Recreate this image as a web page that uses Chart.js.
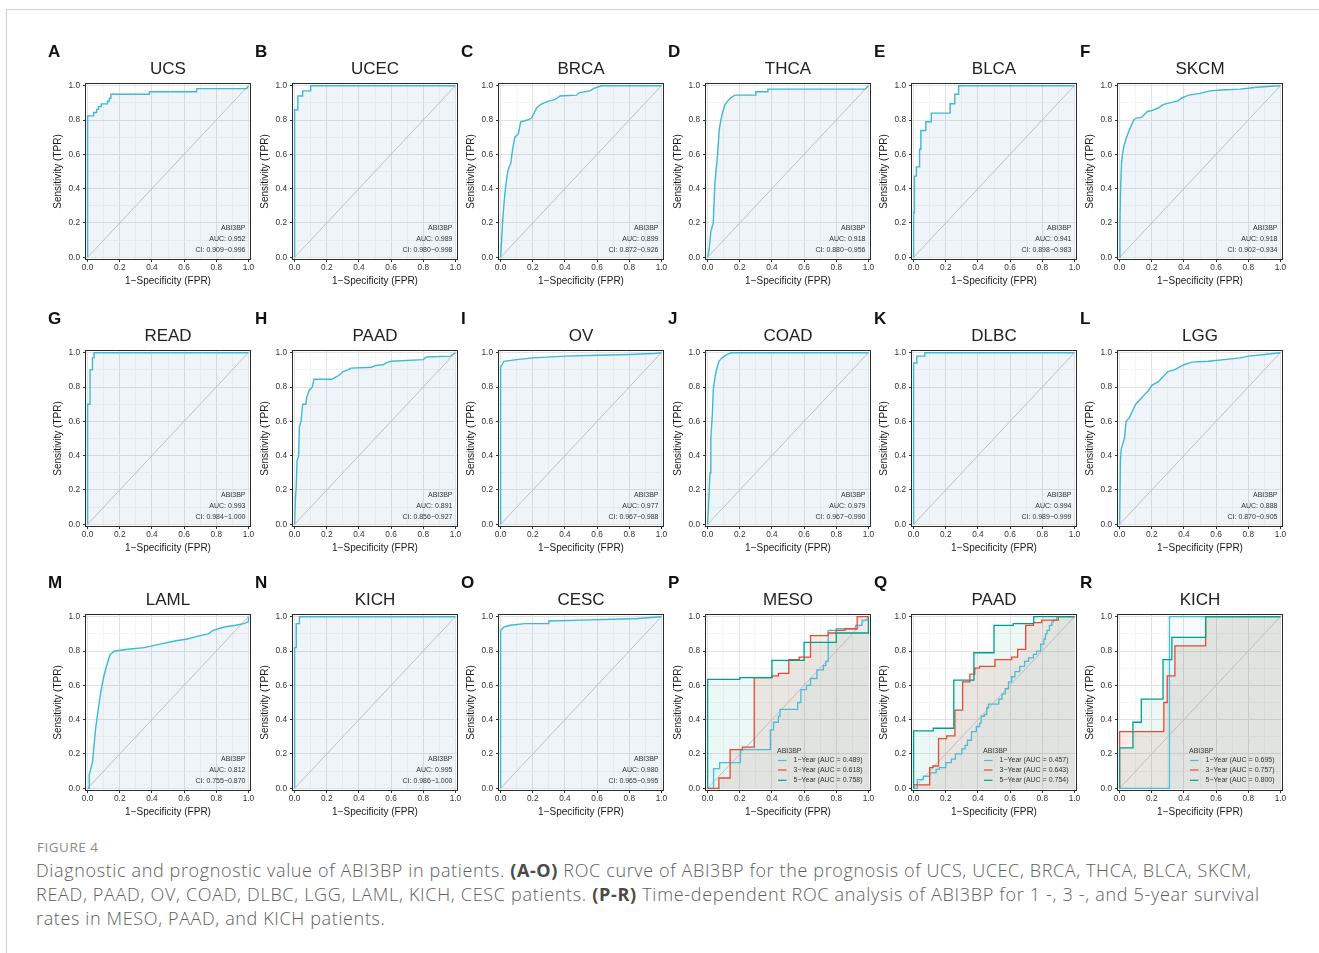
<!DOCTYPE html>
<html>
<head>
<meta charset="utf-8">
<script src="https://cdn.jsdelivr.net/npm/chart.js@4.4.1/dist/chart.umd.min.js"></script>
<style>
  html, body { margin: 0; padding: 0; background: #fff; }
  body { width: 1319px; height: 953px; position: relative; overflow: hidden; }
  #frame { position: absolute; left: 6px; top: 9px; width: 1400px; height: 1000px;
           border-left: 1px solid #d2d2d2; border-top: 1px solid #d2d2d2; }
  canvas.panel { position: absolute; }
  #figlabel { position: absolute; left: 37px; top: 838px; font: 13.5px/18px "Open Sans", sans-serif; color: #8a8a8a; letter-spacing: 0.5px; }
  #caption { position: absolute; left: 36px; top: 858px; font: 300 18px/24px "Open Sans", sans-serif; color: #5e5e5e; }
  #caption div { white-space: nowrap; height: 24px; }
  #caption span { display: inline-block; }
  #caption b { font-weight: 700; color: #4a4a4a; }
</style>
</head>
<body>
<div id="frame"></div>
<div id="figlabel">FIGURE 4</div>
<div id="caption">
  <div><span>Diagnostic and prognostic value of ABI3BP in patients. <b>(A-O)</b> ROC curve of ABI3BP for the prognosis of UCS, UCEC, BRCA, THCA, BLCA, SKCM,</span></div>
  <div><span>READ, PAAD, OV, COAD, DLBC, LGG, LAML, KICH, CESC patients. <b>(P-R)</b> Time-dependent ROC analysis of ABI3BP for 1 -, 3 -, and 5-year survival</span></div>
  <div><span>rates in MESO, PAAD, and KICH patients.</span></div>
</div>
<script>
// axis ticks
const gridTicks = [0, 0.1, 0.2, 0.3, 0.4, 0.5, 0.6, 0.7, 0.8, 0.9, 1];
const majorTicks = [0, 0.2, 0.4, 0.6, 0.8, 1];

// panels A-O (single ROC curve each)
const panelLetters = ['A', 'B', 'C', 'D', 'E', 'F', 'G', 'H', 'I', 'J', 'K', 'L', 'M', 'N', 'O'];
const panelTitles = ['UCS', 'UCEC', 'BRCA', 'THCA', 'BLCA', 'SKCM', 'READ', 'PAAD', 'OV', 'COAD', 'DLBC', 'LGG', 'LAML', 'KICH', 'CESC'];
const aucValues = ['0.952', '0.989', '0.899', '0.918', '0.941', '0.918', '0.993', '0.891', '0.977', '0.979', '0.994', '0.888', '0.812', '0.995', '0.980'];
const ciValues = ['0.909−0.996', '0.980−0.998', '0.872−0.926', '0.880−0.956', '0.898−0.983', '0.902−0.934', '0.984−1.000', '0.856−0.927',
                  '0.967−0.988', '0.967−0.990', '0.989−0.999', '0.870−0.905', '0.755−0.870', '0.986−1.000', '0.965−0.995'];

const ucsFpr = [0, 0, 0.037, 0.037, 0.056, 0.056, 0.068, 0.068, 0.085, 0.085, 0.124, 0.124, 0.135, 0.135, 0.145, 0.145, 0.384, 0.384, 0.678, 0.678, 0.99, 1];
const ucsTpr = [0, 0.824, 0.824, 0.844, 0.844, 0.862, 0.862, 0.878, 0.878, 0.894, 0.894, 0.91, 0.91, 0.927, 0.927, 0.95, 0.95, 0.965, 0.965, 0.983, 0.983, 1];
const ucecFpr = [0, 0, 0.02, 0.02, 0.05, 0.05, 0.1, 0.1, 1];
const ucecTpr = [0, 0.86, 0.86, 0.94, 0.94, 0.97, 0.97, 1, 1];
const brcaFpr = [0, 0.005, 0.012, 0.02, 0.027, 0.041, 0.05, 0.064, 0.07, 0.08, 0.089, 0.11, 0.125, 0.166, 0.19, 0.203, 0.224, 0.248, 0.27, 0.3, 0.34, 0.369, 0.472, 0.49, 0.555, 0.58, 0.627, 1];
const brcaTpr = [0, 0.08, 0.2, 0.3, 0.376, 0.48, 0.52, 0.55, 0.6, 0.66, 0.7, 0.72, 0.79, 0.8, 0.81, 0.83, 0.87, 0.89, 0.9, 0.91, 0.92, 0.94, 0.945, 0.96, 0.97, 0.985, 1, 1];
const thcaFpr = [0, 0.01, 0.02, 0.035, 0.045, 0.062, 0.072, 0.082, 0.095, 0.108, 0.124, 0.144, 0.17, 0.3, 0.3, 0.375, 0.375, 0.98, 1];
const thcaTpr = [0, 0.05, 0.15, 0.2, 0.43, 0.6, 0.74, 0.8, 0.85, 0.89, 0.91, 0.93, 0.945, 0.945, 0.965, 0.965, 0.98, 0.98, 1];
const blcaFpr = [0, 0, 0.005, 0.005, 0.017, 0.017, 0.037, 0.037, 0.045, 0.045, 0.076, 0.076, 0.11, 0.11, 0.227, 0.227, 0.256, 0.256, 0.28, 0.28, 1];
const blcaTpr = [0, 0.26, 0.26, 0.473, 0.473, 0.527, 0.527, 0.63, 0.63, 0.739, 0.739, 0.79, 0.79, 0.84, 0.84, 0.895, 0.895, 0.95, 0.95, 1, 1];
const skcmFpr = [0, 0.002, 0.006, 0.012, 0.018, 0.027, 0.043, 0.064, 0.088, 0.1, 0.136, 0.173, 0.2, 0.24, 0.27, 0.31, 0.36, 0.39, 0.43, 0.5, 0.56, 0.63, 0.75, 0.84, 0.96, 1];
const skcmTpr = [0, 0.2, 0.4, 0.55, 0.6, 0.65, 0.7, 0.75, 0.8, 0.81, 0.815, 0.85, 0.855, 0.87, 0.89, 0.9, 0.91, 0.93, 0.945, 0.955, 0.97, 0.975, 0.98, 0.99, 0.998, 1];
const readFpr = [0, 0, 0.015, 0.015, 0.03, 0.03, 0.04, 0.04, 1];
const readTpr = [0, 0.7, 0.7, 0.9, 0.9, 0.97, 0.97, 1, 1];
const paadFpr = [0, 0.005, 0.01, 0.015, 0.025, 0.03, 0.04, 0.05, 0.07, 0.075, 0.09, 0.11, 0.12, 0.23, 0.25, 0.28, 0.3, 0.33, 0.35, 0.48, 0.5, 0.55, 0.58, 0.6, 0.8, 0.82, 0.97, 1];
const paadTpr = [0, 0.15, 0.22, 0.37, 0.4, 0.57, 0.6, 0.7, 0.7, 0.74, 0.78, 0.8, 0.845, 0.845, 0.855, 0.87, 0.89, 0.9, 0.91, 0.915, 0.925, 0.93, 0.945, 0.95, 0.96, 0.975, 0.98, 1];
const ovFpr = [0, 0, 0.01, 0.02, 0.1, 0.2, 0.4, 0.6, 0.8, 0.95, 1];
const ovTpr = [0, 0.92, 0.93, 0.95, 0.96, 0.97, 0.98, 0.985, 0.99, 0.995, 1];
const coadFpr = [0, 0.005, 0.015, 0.02, 0.03, 0.035, 0.045, 0.055, 0.07, 0.09, 0.12, 0.15, 1];
const coadTpr = [0, 0.1, 0.3, 0.5, 0.65, 0.78, 0.85, 0.9, 0.95, 0.97, 0.99, 1, 1];
const dlbcFpr = [0, 0, 0.02, 0.02, 0.07, 0.07, 1];
const dlbcTpr = [0, 0.94, 0.94, 0.98, 0.98, 1, 1];
const lggFpr = [0, 0.005, 0.01, 0.02, 0.03, 0.04, 0.06, 0.08, 0.1, 0.12, 0.14, 0.16, 0.18, 0.2, 0.24, 0.27, 0.3, 0.34, 0.38, 0.4, 0.45, 0.55, 0.65, 0.75, 0.8, 0.9, 1];
const lggTpr = [0, 0.37, 0.44, 0.47, 0.5, 0.6, 0.62, 0.66, 0.7, 0.72, 0.74, 0.76, 0.78, 0.81, 0.83, 0.86, 0.89, 0.9, 0.92, 0.93, 0.945, 0.95, 0.96, 0.97, 0.98, 0.99, 1];
const lamlFpr = [0, 0.01, 0.01, 0.03, 0.04, 0.05, 0.06, 0.08, 0.1, 0.12, 0.14, 0.17, 0.25, 0.35, 0.45, 0.55, 0.62, 0.7, 0.75, 0.78, 0.85, 0.92, 0.97, 1, 1];
const lamlTpr = [0, 0, 0.08, 0.15, 0.25, 0.35, 0.42, 0.55, 0.65, 0.72, 0.78, 0.8, 0.81, 0.82, 0.84, 0.86, 0.87, 0.89, 0.9, 0.92, 0.94, 0.95, 0.96, 0.97, 1];
const kichFpr = [0, 0, 0.01, 0.01, 0.03, 0.03, 1];
const kichTpr = [0, 0.82, 0.82, 0.96, 0.96, 1, 1];
const cescFpr = [0, 0, 0.01, 0.02, 0.06, 0.15, 0.3, 0.3, 0.5, 0.7, 0.85, 1];
const cescTpr = [0, 0.92, 0.93, 0.94, 0.95, 0.96, 0.96, 0.975, 0.98, 0.985, 0.99, 1];

// panels P-R (time-dependent ROC, 1/3/5 year)
const timeLetters = ['P', 'Q', 'R'];
const timeTitles = ['MESO', 'PAAD', 'KICH'];
const yearLabels = ['1−Year', '3−Year', '5−Year'];
const timeAuc = [['0.489', '0.618', '0.758'], ['0.457', '0.643', '0.754'], ['0.695', '0.757', '0.800']];

const meso1Fpr = [0, 0.037, 0.037, 0.075, 0.075, 0.204, 0.204, 0.39, 0.39, 0.41, 0.41, 0.44, 0.44, 0.45, 0.45, 0.56, 0.56, 0.58, 0.58, 0.615, 0.615, 0.64, 0.64, 0.68, 0.68, 0.72, 0.72, 0.735, 0.735, 0.75, 0.75, 0.8, 0.8, 0.92, 0.92, 0.96, 0.96, 1, 1];
const meso1Tpr = [0, 0, 0.115, 0.115, 0.15, 0.15, 0.225, 0.225, 0.34, 0.34, 0.385, 0.385, 0.42, 0.42, 0.46, 0.46, 0.5, 0.5, 0.575, 0.575, 0.6, 0.6, 0.64, 0.64, 0.69, 0.69, 0.715, 0.715, 0.74, 0.74, 0.92, 0.92, 0.93, 0.93, 0.95, 0.95, 0.98, 0.98, 1];
const meso3Fpr = [0, 0.07, 0.07, 0.14, 0.14, 0.216, 0.216, 0.29, 0.29, 0.4, 0.4, 0.44, 0.44, 0.505, 0.505, 0.57, 0.57, 0.64, 0.64, 0.75, 0.75, 0.8, 0.8, 0.855, 0.855, 0.93, 0.93, 1];
const meso3Tpr = [0, 0, 0.06, 0.06, 0.225, 0.225, 0.24, 0.24, 0.645, 0.645, 0.655, 0.655, 0.67, 0.67, 0.75, 0.75, 0.765, 0.765, 0.89, 0.89, 0.905, 0.905, 0.92, 0.92, 0.93, 0.93, 1, 1];
const meso5Fpr = [0, 0, 0.2, 0.2, 0.4, 0.4, 0.6, 0.6, 0.8, 0.8, 1, 1];
const meso5Tpr = [0, 0.635, 0.635, 0.645, 0.645, 0.745, 0.745, 0.85, 0.85, 0.905, 0.905, 1];

const paad1Fpr = [0, 0.023, 0.06, 0.1, 0.14, 0.16, 0.2, 0.235, 0.26, 0.3, 0.32, 0.335, 0.36, 0.39, 0.41, 0.42, 0.44, 0.455, 0.465, 0.53, 0.55, 0.57, 0.59, 0.61, 0.63, 0.66, 0.69, 0.715, 0.745, 0.765, 0.79, 0.81, 0.82, 0.83, 0.845, 0.86, 0.87, 0.89, 0.91, 1];
const paad1Tpr = [0, 0, 0.05, 0.07, 0.09, 0.11, 0.12, 0.15, 0.17, 0.2, 0.23, 0.25, 0.28, 0.33, 0.36, 0.38, 0.42, 0.43, 0.47, 0.49, 0.52, 0.55, 0.58, 0.62, 0.65, 0.68, 0.71, 0.74, 0.76, 0.78, 0.8, 0.84, 0.87, 0.9, 0.92, 0.95, 0.97, 0.98, 1, 1];
const paad3Fpr = [0, 0, 0.1, 0.1, 0.12, 0.12, 0.155, 0.155, 0.205, 0.205, 0.257, 0.257, 0.305, 0.305, 0.35, 0.35, 0.38, 0.38, 0.41, 0.41, 0.506, 0.506, 0.61, 0.61, 0.647, 0.647, 0.697, 0.697, 0.745, 0.745, 0.797, 0.797, 0.9, 0.9, 1];
const paad3Tpr = [0, 0.02, 0.02, 0.12, 0.12, 0.13, 0.13, 0.29, 0.29, 0.305, 0.305, 0.455, 0.455, 0.62, 0.62, 0.665, 0.665, 0.7, 0.7, 0.71, 0.71, 0.75, 0.75, 0.765, 0.765, 0.81, 0.81, 0.95, 0.95, 0.965, 0.965, 0.98, 0.98, 1, 1];
const paad5Fpr = [0, 0, 0.122, 0.122, 0.25, 0.25, 0.375, 0.375, 0.5, 0.5, 0.62, 0.62, 0.747, 0.747, 1];
const paad5Tpr = [0, 0.335, 0.335, 0.35, 0.35, 0.63, 0.63, 0.79, 0.79, 0.95, 0.95, 0.96, 0.96, 1, 1];

const kich1Fpr = [0, 0.31, 0.31, 1];
const kich1Tpr = [0, 0, 1, 1];
const kich3Fpr = [0, 0, 0.275, 0.275, 0.296, 0.296, 0.344, 0.344, 0.535, 0.535, 1];
const kich3Tpr = [0, 0.33, 0.33, 0.5, 0.5, 0.655, 0.655, 0.83, 0.83, 1, 1];
const kich5Fpr = [0, 0, 0.083, 0.083, 0.135, 0.135, 0.27, 0.27, 0.325, 0.325, 0.535, 0.535, 1];
const kich5Tpr = [0, 0.235, 0.235, 0.385, 0.385, 0.52, 0.52, 0.75, 0.75, 0.88, 0.88, 1, 1];

const rocFpr = [ucsFpr, ucecFpr, brcaFpr, thcaFpr, blcaFpr, skcmFpr, readFpr, paadFpr, ovFpr, coadFpr, dlbcFpr, lggFpr, lamlFpr, kichFpr, cescFpr];
const rocTpr = [ucsTpr, ucecTpr, brcaTpr, thcaTpr, blcaTpr, skcmTpr, readTpr, paadTpr, ovTpr, coadTpr, dlbcTpr, lggTpr, lamlTpr, kichTpr, cescTpr];
const timeFpr = [[meso1Fpr, meso3Fpr, meso5Fpr], [paad1Fpr, paad3Fpr, paad5Fpr], [kich1Fpr, kich3Fpr, kich5Fpr]];
const timeTpr = [[meso1Tpr, meso3Tpr, meso5Tpr], [paad1Tpr, paad3Tpr, paad5Tpr], [kich1Tpr, kich3Tpr, kich5Tpr]];

// look
const FONT = '"Liberation Sans", Arial, sans-serif';
const yearColors = ['#4DBBD5', '#E64B35', '#00A087'];
const yearFills = ['rgba(77,187,213,0.05)', 'rgba(230,75,53,0.11)', 'rgba(0,160,135,0.08)'];
const colX = [88, 294.4, 500.8, 707.2, 913.6, 1120];   // pixel of x = 0 for each column
const rowY = [86, 353, 617];                          // pixel of y = 1 for each row
const AXIS_W = 47, AXIS_H = 30, PAD_TOP = 40, PAD_RIGHT = 10;

const toPoints = (xs, ys) => xs.map((x, i) => ({ x: x, y: ys[i] }));
const isMajor = v => majorTicks.includes(v);

function axis(title, isX) {
  return {
    type: 'linear', min: -0.01, max: 1.01,
    afterBuildTicks: s => { s.ticks = gridTicks.map(v => ({ value: v })); },
    afterFit: s => { if (isX) s.height = AXIS_H; else s.width = AXIS_W; },
    border: { display: false },
    grid: {
      color: c => (c.tick && isMajor(c.tick.value)) ? '#e2e2e2' : '#f0f0f0',
      lineWidth: c => (c.tick && isMajor(c.tick.value)) ? 1 : 0.7,
      tickColor: c => (c.tick && isMajor(c.tick.value)) ? '#333' : 'rgba(0,0,0,0)',
      tickLength: 3, tickWidth: 1
    },
    ticks: {
      autoSkip: false, maxRotation: 0, minRotation: 0, padding: isX ? 1 : 3,
      color: '#333', font: { size: 8.3, family: FONT },
      callback: v => isMajor(v) ? v.toFixed(1) : ''
    },
    title: {
      display: true, text: title, color: '#1a1a1a', font: { size: 10, family: FONT },
      padding: isX ? { top: 0, bottom: 2 } : { top: 13, bottom: 0 }
    }
  };
}

function makeCanvas(idx) {
  const col = idx % 6, row = Math.floor(idx / 6);
  const cv = document.createElement('canvas');
  cv.className = 'panel';
  cv.width = AXIS_W + 164 + PAD_RIGHT;
  cv.height = PAD_TOP + 175 + AXIS_H;
  cv.style.left = Math.round(colX[col] - 1.6 - AXIS_W) + 'px';
  cv.style.top = Math.round(rowY[row] - 1.7 - PAD_TOP) + 'px';
  document.body.appendChild(cv);
  return cv;
}

function drawPanel(canvas, letter, title, datasets, note) {
  return new Chart(canvas, {
    type: 'line',
    data: { datasets: datasets },
    options: {
      responsive: false, animation: false, events: [],
      layout: { padding: { top: PAD_TOP, right: PAD_RIGHT, left: 0, bottom: 0 } },
      plugins: { legend: { display: false }, tooltip: { enabled: false }, filler: { drawTime: 'beforeDatasetsDraw' } },
      elements: { point: { radius: 0 }, line: { tension: 0 } },
      scales: { x: axis('1−Specificity (FPR)', true), y: axis('Sensitivity (TPR)', false) }
    },
    plugins: [{
      id: 'decor',
      afterDatasetsDraw(chart) {
        const { ctx, chartArea: a } = chart;
        ctx.save();
        ctx.strokeStyle = '#2a2a2a';
        ctx.lineWidth = 1;
        ctx.strokeRect(a.left - 0.5, a.top - 0.5, a.width + 1, a.height + 1);
        ctx.restore();
      },
      afterDraw(chart) {
        const { ctx, chartArea: a } = chart;
        ctx.save();
        ctx.fillStyle = '#111';
        ctx.textBaseline = 'middle';
        ctx.textAlign = 'left';
        ctx.font = 'bold 17px ' + FONT;
        ctx.fillText(letter, a.left - 38, a.top - 31.5);
        ctx.textAlign = 'center';
        ctx.font = '17px ' + FONT;
        ctx.fillStyle = '#222';
        ctx.fillText(title, (a.left + a.right) / 2, a.top - 15);
        note(ctx, a);
        ctx.restore();
      }
    }]
  });
}

const diagonal = () => ({
  data: [{ x: 0, y: 0 }, { x: 1, y: 1 }],
  borderColor: '#b4b4b4', borderWidth: 0.8, fill: false
});

// A-O
panelLetters.forEach((letter, i) => {
  const datasets = [
    { data: toPoints(rocFpr[i], rocTpr[i]), borderColor: '#3FB8D6', borderWidth: 1.4,
      fill: 'origin', backgroundColor: 'rgba(70,130,170,0.09)' },
    diagonal()
  ];
  drawPanel(makeCanvas(i), letter, panelTitles[i], datasets, (ctx, a) => {
    ctx.fillStyle = '#333';
    ctx.textAlign = 'right';
    ctx.font = '7px ' + FONT;
    ctx.fillText('ABI3BP', a.right - 4.5, a.bottom - 30.5);
    ctx.fillText('AUC: ' + aucValues[i], a.right - 4.5, a.bottom - 19.5);
    ctx.fillText('CI: ' + ciValues[i], a.right - 4.5, a.bottom - 9);
  });
});

// P-R
timeLetters.forEach((letter, k) => {
  const datasets = [2, 1, 0].map(j => ({
    data: toPoints(timeFpr[k][j], timeTpr[k][j]), borderColor: yearColors[j], borderWidth: 1.3,
    stepped: 'after', fill: 'origin', backgroundColor: yearFills[j]
  }));
  datasets.push(diagonal());
  drawPanel(makeCanvas(15 + k), letter, timeTitles[k], datasets, (ctx, a) => {
    ctx.font = '7px ' + FONT;
    ctx.textAlign = 'left';
    ctx.fillStyle = '#333';
    ctx.fillText('ABI3BP', a.right - 93, a.bottom - 38.5);
    [-29.5, -20, -9.7].forEach((dy, j) => {
      ctx.strokeStyle = yearColors[j];
      ctx.lineWidth = 1.2;
      ctx.beginPath();
      ctx.moveTo(a.right - 92, a.bottom + dy);
      ctx.lineTo(a.right - 83.5, a.bottom + dy);
      ctx.stroke();
      ctx.fillText(yearLabels[j] + ' (AUC = ' + timeAuc[k][j] + ')', a.right - 76.5, a.bottom + dy);
    });
  });
});

// stretch caption lines to the widths they have in the figure
const captionWidths = [1215, 1223];
function fitCaption() {
  const spans = document.querySelectorAll('#caption span');
  let spacing = 0;
  captionWidths.forEach((target, i) => {
    const s = spans[i];
    s.style.letterSpacing = '0px';
    const w = s.getBoundingClientRect().width;
    const ls = (target - w) / (s.textContent.length - 1);
    s.style.letterSpacing = ls + 'px';
    if (i === 0) spacing = ls;
  });
  spans[2].style.letterSpacing = spacing + 'px';
}
fitCaption();
if (document.fonts) document.fonts.ready.then(fitCaption);
</script>
</body>
</html>
